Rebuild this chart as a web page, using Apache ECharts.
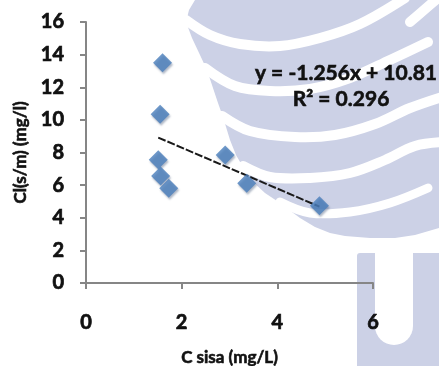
<!DOCTYPE html>
<html>
<head>
<meta charset="utf-8">
<script src="https://cdn.jsdelivr.net/npm/echarts@6/dist/echarts.min.js"></script>
<style>
html,body{margin:0;padding:0;background:#fff;}
#c{width:439px;height:366px;}
</style>
</head>
<body>
<div id="c"></div>
<script>
// ---- data ----
var xValues = [1.60, 1.55, 1.51, 1.56, 1.73, 2.91, 3.36, 4.88];
var yValues = [13.5, 10.35, 7.55, 6.56, 5.81, 7.85, 6.12, 4.74];
var trendSlope = -1.256;
var trendIntercept = 10.81;
var rSquared = '0.296';
var xTicks = [0, 2, 4, 6];
var yTicks = [0, 2, 4, 6, 8, 10, 12, 14, 16];
var xTitle = 'C sisa (mg/L)';
var yTitle = 'Cl(s/m) (mg/l)';

var points = xValues.map(function (x, i) { return [x, yValues[i]]; });
var xMin = Math.min.apply(null, xValues);
var xMax = Math.max.apply(null, xValues);
var trend = [[xMin, trendSlope * xMin + trendIntercept], [xMax, trendSlope * xMax + trendIntercept]];

var lav = '#CCD1E6';
var font = 'Lato, "Open Sans", sans-serif';
var ink = '#111111';

function wave(pts, w) {
  return {type: 'polyline', z: -9, silent: true,
    shape: {points: pts, smooth: 0.35},
    style: {stroke: '#fff', lineWidth: w, fill: null, lineCap: 'round', lineJoin: 'round'}};
}

var chart = echarts.init(document.getElementById('c'), null, {renderer: 'canvas'});
chart.setOption({
  backgroundColor: '#ffffff',
  animation: false,
  graphic: {
    elements: [
      {type: 'polygon', z: -10, silent: true,
        shape: {points: [[195,0],[439,0],[439,228],[415,235],[395,238],[370,238],[345,236],[330,233],[315,227],[300,218],[280,203],[265,193],[252,181],[243,167],[236,155],[230,140],[223,117],[218,103],[212,85],[207,70],[200,55],[192,38],[186,22],[189,10]]},
        style: {fill: lav}},
      wave([[186,20],[210,35],[240,44],[280,46],[320,38],[360,24],[405,-2]], 10),
      wave([[205,68],[235,86],[270,91],[310,89],[350,78],[390,60],[428,42]], 10),
      wave([[222,116],[250,131],[295,137],[335,135],[375,124],[410,108],[445,96]], 10),
      wave([[243,166],[270,177],[310,178],[350,173],[385,160],[415,146],[445,142]], 10),
      wave([[280,202],[310,213],[350,212],[390,203],[428,188]], 9),
      wave([[410,22],[424,10],[438,-2]], 10),
      {type: 'rect', z: -10, silent: true,
        shape: {x: 357, y: 253, width: 100, height: 130, r: [3, 3, 0, 0]},
        style: {fill: lav}},
      {type: 'rect', z: -9, silent: true,
        shape: {x: 375, y: 240, width: 38, height: 105, r: [0, 0, 19, 19]},
        style: {fill: '#fff'}},
      {type: 'text', z: 100, silent: true, x: 437, y: 73,
        style: {text: 'y = ' + trendSlope + 'x + ' + trendIntercept, font: 'bold 21px ' + font, fill: ink, stroke: ink, lineWidth: 0.6, align: 'right', verticalAlign: 'middle'}},
      {type: 'text', z: 100, silent: true, x: 341, y: 99,
        style: {text: 'R² = ' + rSquared, font: 'bold 21px ' + font, fill: ink, stroke: ink, lineWidth: 0.6, align: 'center', verticalAlign: 'middle'}}
    ]
  },
  grid: {left: 86, right: 66, top: 22, bottom: 83, containLabel: false, outerBoundsMode: 'none'},
  xAxis: {
    type: 'value', min: xTicks[0], max: xTicks[xTicks.length - 1], interval: 2,
    name: xTitle, nameLocation: 'middle', nameGap: 66,
    nameTextStyle: {fontFamily: font, fontWeight: 'bold', fontSize: 17, color: ink, textBorderColor: ink, textBorderWidth: 0.6},
    axisLine: {show: true, lineStyle: {color: '#868686', width: 2}},
    axisTick: {show: true, length: 6, lineStyle: {color: '#868686', width: 2}},
    axisLabel: {margin: 30, fontFamily: font, fontWeight: 'bold', fontSize: 20, color: ink, textBorderColor: ink, textBorderWidth: 0.7},
    splitLine: {show: false}
  },
  yAxis: {
    type: 'value', min: yTicks[0], max: yTicks[yTicks.length - 1], interval: 2,
    name: yTitle, nameLocation: 'middle', nameGap: 54,
    nameTextStyle: {fontFamily: font, fontWeight: 'bold', fontSize: 17, color: ink, textBorderColor: ink, textBorderWidth: 0.6},
    axisLine: {show: true, lineStyle: {color: '#868686', width: 2}},
    axisTick: {show: true, length: 6, lineStyle: {color: '#868686', width: 2}},
    axisLabel: {margin: 22, fontFamily: font, fontWeight: 'bold', fontSize: 20, color: ink, textBorderColor: ink, textBorderWidth: 0.7},
    splitLine: {show: false}
  },
  series: [
    {type: 'line', data: trend, symbol: 'none', z: 3,
      lineStyle: {color: '#1a1a1a', width: 2, type: [8, 2]}},
    {type: 'scatter', data: points, symbol: 'diamond', symbolSize: [19, 19], z: 4,
      itemStyle: {color: '#4A7EBB', shadowColor: 'rgba(40,60,100,0.45)', shadowBlur: 2, shadowOffsetY: 2, shadowOffsetX: 1}}
  ]
});
</script>
</body>
</html>
